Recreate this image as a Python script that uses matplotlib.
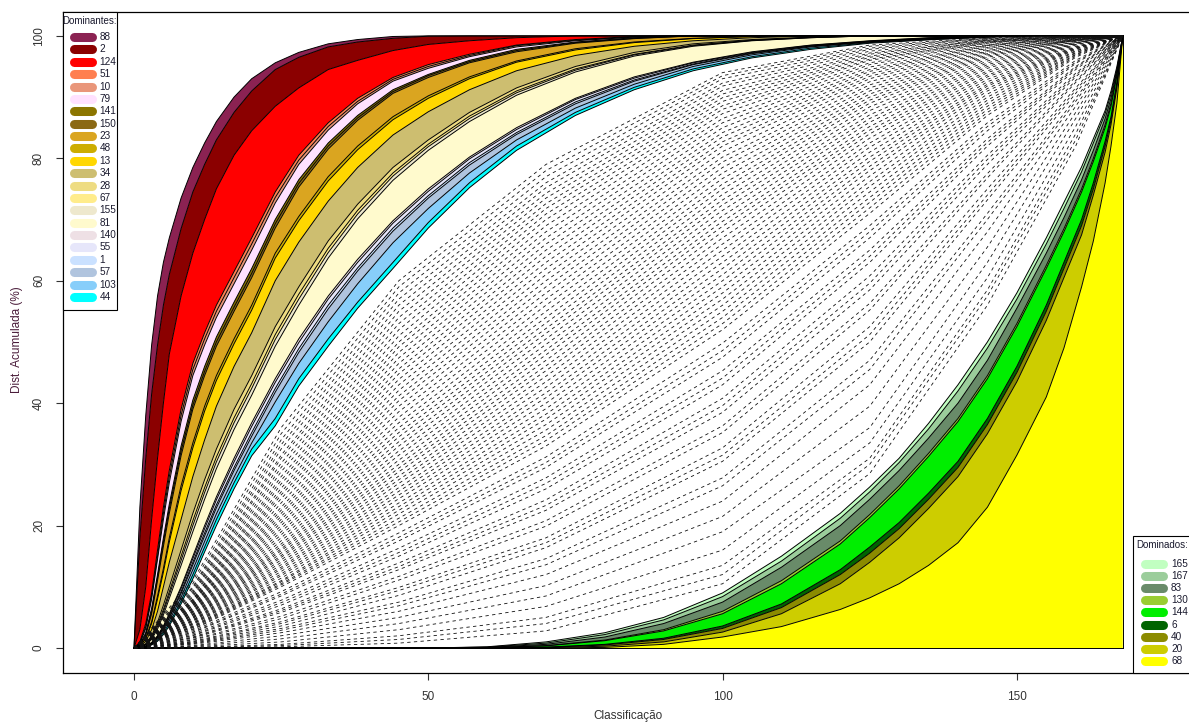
import numpy as np
import matplotlib.pyplot as plt
from matplotlib.lines import Line2D
from matplotlib.patches import Rectangle

plt.rcParams['font.family'] = ['Liberation Sans', 'DejaVu Sans']

W, H = 1189, 724

# ranks (x) where the dominant curves were read
xd = [0, 1, 2, 3, 4, 5, 6, 8, 10, 12, 14, 17, 20, 24, 28, 33, 38, 44, 50, 57,
      65, 75, 85, 95, 105, 115, 125, 135, 150, 168]

dom_ids = ['88', '2', '124', '51', '10', '79', '141', '150', '23', '48', '13',
           '34', '28', '67', '155', '81', '140', '55', '1', '57', '103', '44']
dom_colors = ['#8B2252', '#8B0000', '#FF0000', '#FF7F50', '#E9967A', '#FFE1FF',
              '#8B7500', '#8B6914', '#DAA520', '#CDAD00', '#FFD700', '#CDBE70',
              '#EEDC82', '#FFEC8B', '#EEE8CD', '#FFFACD', '#EEE0E5', '#E6E6FA',
              '#CAE1FF', '#B0C4DE', '#87CEFA', '#00FFFF']
# cumulative % at xd (lists stop once 100 is reached)
dom_curves = [
    [0, 23, 38, 49.5, 57.5, 63, 67, 73.5, 78.5, 82.5, 86, 90, 93, 95.6, 97.3, 98.7, 99.4, 99.9, 100],
    [0, 18, 31, 41.5, 49.5, 56, 61, 68.5, 74.5, 79, 83, 87.5, 91, 94.5, 96.5, 98.2, 99, 99.6, 99.95, 100],
    [0, 3, 10, 21, 31, 40, 48, 57.5, 64.5, 70, 75, 80.5, 84.5, 88.5, 91.5, 94.5, 96, 97.6, 98.6, 99.2, 99.7, 100],
    [0, 1, 4, 9, 16, 23, 29, 39, 46.5, 51.5, 56, 61.5, 67, 74.5, 80.5, 85.8, 89.8, 93.2, 95.3, 97, 98.5, 99.4, 99.9, 100],
    [0, 0.8, 3.5, 8.5, 15, 22, 28, 38, 45.5, 50.5, 55, 60.5, 66, 73.6, 79.7, 85.2, 89.3, 92.9, 95, 96.8, 98.4, 99.3, 99.85, 100],
    [0, 0.7, 3.2, 8, 14.5, 21, 27, 37, 44.5, 49.5, 54, 59.5, 65, 72.7, 79, 84.6, 88.9, 92.6, 94.7, 96.6, 98.2, 99.2, 99.8, 100],
    [0, 0.5, 2.5, 6.5, 12, 18, 23.5, 33, 40.5, 46, 50.8, 56.5, 62, 70, 76.5, 82.5, 87, 91.2, 93.7, 96, 97.8, 99, 99.7, 100],
    [0, 0.5, 2.3, 6, 11.5, 17.3, 22.8, 32.2, 39.7, 45.2, 50, 55.7, 61.2, 69.3, 75.9, 82, 86.6, 90.9, 93.5, 95.8, 97.6, 98.9, 99.6, 100],
    [0, 0.4, 2.1, 5.6, 11, 16.6, 22, 31.4, 39, 44.5, 49.3, 55, 60.5, 68.6, 75.3, 81.5, 86.2, 90.6, 93.2, 95.6, 97.4, 98.8, 99.55, 100],
    [0, 0.3, 1.6, 4.3, 8.5, 13, 18, 26.5, 33.5, 39.5, 44.5, 50.5, 56, 64.5, 70.5, 77, 82, 86.8, 90.2, 93.3, 95.9, 97.9, 99, 99.6, 99.9, 100],
    [0, 0.3, 1.5, 4, 8, 12.4, 17.3, 25.7, 32.7, 38.7, 43.7, 49.7, 55.2, 63.7, 69.8, 76.3, 81.4, 86.3, 89.8, 93, 95.7, 97.7, 98.9, 99.55, 99.9, 100],
    [0, 0.2, 1.1, 3, 6, 10, 14, 21, 28, 34, 39.5, 46, 51.5, 60, 66.3, 73, 78.5, 83.8, 87.6, 91.2, 94.3, 96.8, 98.3, 99.2, 99.7, 100],
    [0, 0.1, 0.7, 2, 4.2, 7, 10, 16, 22, 27.5, 32.5, 39, 44.5, 52.5, 59, 66.5, 72.5, 78.5, 83, 87.5, 91.5, 95, 97.3, 98.7, 99.4, 99.8, 100],
    [0, 0.1, 0.6, 1.8, 3.8, 6.3, 9.2, 15, 20.8, 26.2, 31.2, 37.6, 43.2, 51.2, 57.8, 65.3, 71.5, 77.6, 82.3, 86.9, 91, 94.6, 97, 98.5, 99.3, 99.75, 100],
    [0, 0.1, 0.55, 1.6, 3.5, 5.9, 8.7, 14.3, 20, 25.4, 30.4, 36.8, 42.4, 50.4, 57, 64.6, 70.9, 77.1, 81.9, 86.5, 90.7, 94.4, 96.9, 98.4, 99.25, 99.7, 100],
    [0, 0.1, 0.5, 1.4, 3.1, 5.4, 8.1, 13.5, 19, 24.3, 29.3, 35.7, 41.3, 49.3, 56, 63.7, 70.1, 76.4, 81.3, 86, 90.3, 94.1, 96.7, 98.3, 99.2, 99.7, 100],
    [0, 0.05, 0.3, 0.9, 2, 3.6, 5.6, 10, 15, 20, 24.7, 31, 36.8, 44, 50.5, 57.5, 63.5, 69.8, 75, 80.2, 85, 89.8, 93.3, 95.7, 97.4, 98.5, 99.2, 99.7, 100],
    [0, 0.05, 0.3, 0.85, 1.9, 3.5, 5.4, 9.7, 14.6, 19.5, 24.2, 30.4, 36.2, 43.4, 49.9, 57, 63, 69.4, 74.6, 79.9, 84.7, 89.6, 93.1, 95.6, 97.3, 98.45, 99.15, 99.65, 100],
    [0, 0.05, 0.25, 0.8, 1.8, 3.3, 5.1, 9.2, 14, 18.8, 23.4, 29.5, 35.2, 42.4, 48.9, 56, 62.1, 68.6, 73.9, 79.3, 84.2, 89.2, 92.8, 95.4, 97.2, 98.35, 99.1, 99.6, 100],
    [0, 0.05, 0.25, 0.75, 1.7, 3.1, 4.9, 8.9, 13.6, 18.3, 22.9, 29, 34.6, 41.8, 48.3, 55.4, 61.6, 68.1, 73.5, 78.9, 83.9, 88.9, 92.6, 95.3, 97.1, 98.3, 99.05, 99.55, 100],
    [0, 0.04, 0.2, 0.7, 1.5, 2.8, 4.5, 8.3, 12.8, 17.4, 21.9, 27.9, 33.5, 40.2, 46.5, 53.3, 59.5, 66.2, 71.8, 77.6, 83, 88.2, 92.1, 95, 96.9, 98.2, 99, 99.5, 100],
    [0, 0.03, 0.15, 0.6, 1.3, 2.5, 4, 7.7, 12, 16.5, 21, 27, 32.5, 37.5, 44, 50.5, 56.5, 63, 69.5, 76, 82, 87.5, 91.6, 94.6, 96.6, 98, 98.9, 99.4, 100],
]
# first plain curve just under item 44
dom_edge = [0, 0.02, 0.1, 0.5, 1.1, 2.2, 3.6, 7.2, 11.3, 15.7, 20, 26, 31.4, 36.3, 42.8,
            49.3, 55.5, 62, 68.6, 75.2, 81.3, 87, 91.2, 94.3, 96.4, 97.8, 98.8, 99.35, 100]

# ranks where the dominated curves were read
xn = [0, 50, 60, 70, 80, 90, 100, 110, 120, 125, 130, 135, 140, 145, 150, 155, 158,
      161, 163, 165, 166, 167, 168]
sub_ids = ['165', '167', '83', '130', '144', '6', '40', '20', '68']
sub_colors = ['#C1FFC1', '#9BCD9B', '#698B69', '#9ACD32', '#00EE00', '#006400',
              '#8B8B00', '#CDCD00', '#FFFF00']
sub_curves = [
    [0, 0, 0.2, 1, 2.5, 5, 9, 15, 22, 26.3, 31, 36.7, 43, 50, 58, 67, 72.8, 78.6, 83.2, 87.8, 91, 95, 100],
    [0, 0, 0.15, 0.8, 2.2, 4.6, 8.4, 14.2, 21.2, 25.5, 30.3, 35.8, 42, 49, 57, 66, 71.8, 77.8, 82.5, 87.3, 90.5, 94.6, 100],
    [0, 0, 0.1, 0.6, 1.8, 4, 7.5, 13.2, 20, 24.3, 29, 34.3, 40, 47, 55.5, 64.5, 70.3, 76.5, 81.3, 86.5, 89.8, 94.3, 100],
    [0, 0, 0.05, 0.4, 1.3, 3, 6, 11, 17.5, 21.8, 26.5, 31.8, 37.5, 44.5, 53, 62.5, 68.5, 75, 80, 85.5, 89, 93.8, 100],
    [0, 0, 0.04, 0.35, 1.2, 2.8, 5.6, 10.5, 17, 21.3, 26, 31.3, 37, 44, 52.5, 62, 68, 74.5, 79.5, 85, 88.5, 93.5, 100],
    [0, 0, 0, 0.15, 0.6, 1.6, 3.6, 7.2, 12.8, 16.5, 20.5, 25.3, 30.5, 37.5, 46, 56, 63, 70, 76, 82.8, 86.8, 92.4, 100],
    [0, 0, 0, 0.1, 0.5, 1.4, 3.2, 6.6, 12, 15.5, 19.5, 24.3, 29.5, 36.5, 45, 55, 62, 69, 75, 82, 86.2, 92, 100],
    [0, 0, 0, 0.05, 0.3, 1, 2.6, 5.6, 10.5, 14, 18, 22.8, 28, 35, 43.5, 53.5, 60.5, 67.5, 74, 81, 85.5, 91.5, 100],
    [0, 0, 0, 0, 0.1, 0.6, 1.8, 3.5, 6.3, 8.2, 10.5, 13.5, 17.2, 23, 31.5, 41, 49, 59, 66.5, 76, 82, 89, 100],
]

# the remaining items (dashed), cumulative % at these ranks
xm = [0, 10, 25, 45, 70, 100, 125, 145, 160, 168]
mid_curves = [
    [11, 36, 60, 79, 94, 98.5, 99.7, 100],
    [10.5, 35, 59, 78, 93.5, 98.3, 99.6, 100],
    [10, 34, 58, 77, 93, 98, 99.6, 100],
    [9.8, 33.2, 57, 76, 92.3, 97.8, 99.5, 100],
    [9.5, 32.5, 56, 75.2, 91.8, 97.5, 99.4, 99.9],
    [9.2, 31.5, 55, 74.3, 91.1, 97.2, 99.3, 99.9],
    [9, 31, 54, 73.5, 90.5, 97, 99.3, 99.9],
    [8.8, 30.2, 53, 72.6, 89.9, 96.7, 99.2, 99.9],
    [8.5, 29.5, 52, 71.8, 89.3, 96.5, 99.1, 99.9],
    [8.3, 28.8, 51, 70.9, 88.6, 96.2, 99, 99.8],
    [8, 28, 50, 70, 88, 96, 99, 99.8],
    [7.9, 27.4, 49.2, 69, 87.3, 95.6, 98.9, 99.8],
    [7.8, 26.8, 48.3, 68, 86.5, 95.3, 98.8, 99.8],
    [7.6, 26.1, 47.4, 67, 85.8, 94.9, 98.6, 99.7],
    [7.5, 25.5, 46.5, 66, 85, 94.5, 98.5, 99.7],
    [7.4, 25, 45.6, 65, 84.2, 94.2, 98.4, 99.7],
    [7.3, 24.4, 44.8, 64, 83.5, 93.8, 98.3, 99.7],
    [7.1, 23.7, 43.9, 63, 82.7, 93.4, 98.1, 99.6],
    [7, 23, 43, 62, 82, 93, 98, 99.6],
    [6.9, 22.5, 42.1, 61, 81.1, 92.5, 97.8, 99.5],
    [6.8, 22, 41.2, 60, 80.2, 92, 97.6, 99.5],
    [6.6, 21.5, 40.4, 59, 79.4, 91.5, 97.5, 99.4],
    [6.5, 21, 39.5, 58, 78.5, 91, 97.3, 99.4],
    [6.4, 20.5, 38.6, 57, 77.6, 90.5, 97.1, 99.4],
    [6.3, 20, 37.7, 56, 76.7, 90, 96.9, 99.3],
    [6.1, 19.5, 36.8, 55, 75.8, 89.5, 96.7, 99.3],
    [6, 19, 36, 54, 75, 89, 96.5, 99.3],
    [5.9, 18.5, 35.2, 53.1, 74.1, 88.4, 96.2, 99.2],
    [5.8, 18, 34.5, 52.2, 73.2, 87.8, 95.9, 99.1],
    [5.6, 17.5, 33.7, 51.4, 72.4, 87.1, 95.6, 99.1],
    [5.5, 17, 33, 50.5, 71.5, 86.5, 95.3, 99],
    [5.4, 16.6, 32.2, 49.6, 70.6, 85.9, 95, 98.9],
    [5.3, 16.2, 31.5, 48.7, 69.7, 85.2, 94.7, 98.8],
    [5.1, 15.9, 30.7, 47.9, 68.9, 84.6, 94.3, 98.8],
    [5, 15.5, 30, 47, 68, 84, 94, 98.7],
    [4.9, 15.1, 29.4, 46.1, 67, 83.3, 93.6, 98.6],
    [4.8, 14.8, 28.8, 45.3, 66, 82.5, 93.3, 98.5],
    [4.6, 14.4, 28.1, 44.4, 65, 81.8, 92.9, 98.3],
    [4.5, 14, 27.5, 43.5, 64, 81, 92.5, 98.2],
    [4.4, 13.6, 26.9, 42.6, 63, 80.2, 92.1, 98.1],
    [4.3, 13.2, 26.2, 41.7, 62, 79.5, 91.8, 98],
    [4.1, 12.9, 25.6, 40.9, 61, 78.7, 91.4, 97.9],
    [4, 12.5, 25, 40, 60, 78, 91, 97.8],
    [3.9, 12.1, 24.4, 39.1, 59, 77.1, 90.5, 97.6],
    [3.8, 11.8, 23.7, 38.2, 58, 76.2, 90, 97.5],
    [3.6, 11.4, 23.1, 37.4, 57, 75.4, 89.5, 97.3],
    [3.5, 11, 22.5, 36.5, 56, 74.5, 89, 97.2],
    [3.4, 10.8, 21.9, 35.6, 55, 73.6, 88.5, 97],
    [3.3, 10.5, 21.2, 34.7, 54, 72.8, 88, 96.9],
    [3.1, 10.3, 20.6, 33.9, 53, 71.9, 87.5, 96.7],
    [3, 10, 20, 33, 52, 71, 87, 96.5],
    [2.8, 9.2, 18.8, 31.2, 49.8, 69, 85.8, 96],
    [2.6, 8.8, 18.1, 30.3, 48.6, 68, 85.2, 95.7],
    [2.5, 8.5, 17.5, 29.5, 47.5, 67, 84.5, 95.5],
    [2.3, 7.8, 16.3, 27.8, 45.3, 65, 83.2, 95],
    [2.1, 7.4, 15.6, 26.9, 44.1, 64, 82.6, 94.8],
    [2, 7, 15, 26, 43, 63, 82, 94.5],
    [1.8, 6.4, 13.9, 24.2, 40.8, 60.8, 80.5, 93.9],
    [1.7, 6.1, 13.3, 23.3, 39.6, 59.6, 79.8, 93.6],
    [1.6, 5.8, 12.8, 22.5, 38.5, 58.5, 79, 93.3],
    [1.4, 5.2, 11.7, 20.8, 36.3, 56.3, 77.5, 92.7],
    [1.3, 4.8, 11.1, 19.9, 35.2, 55.2, 76.8, 92.4],
    [1.1, 4.3, 9.9, 18, 32.7, 52.5, 75, 91.5],
    [1, 4, 9.4, 17.2, 31.5, 51.2, 74, 91.1],
    [0.9, 3.6, 8.6, 16.4, 30.5, 50, 73.2, 90.6],
    [0.8, 3.2, 7.5, 14.6, 27.8, 47, 71, 89.8],
    [0.7, 2.9, 6.9, 13.6, 26.5, 45.5, 70, 89.3],
    [0.6, 2.5, 6, 12, 24, 43, 68, 88.5],
    [0.4, 2, 5, 10.2, 21.5, 39.5, 65.5, 87.5],
    [0.3, 1.5, 4, 8.5, 19, 36, 63, 86.5],
    [0.2, 1, 3, 6.8, 16, 33.5, 60.5, 85.2],
    [0.1, 0.6, 2, 5, 13.5, 31, 58.5, 84],
    [0.05, 0.4, 1.4, 4, 12, 30, 57.5, 83],
    [0, 0.2, 0.8, 2.8, 10.5, 28.5, 56, 82],
]


def pad(row, n):
    # cumulative share stays at 100 once reached
    return np.array(list(row) + [100.0] * (n - len(row)), dtype=float)


fig = plt.figure(figsize=(W / 100, H / 100), dpi=100)
ax = fig.add_axes([63 / W, 1 - 673 / H, (1194 - 63) / W, (673 - 12) / H])

# dominant bands, each one between its curve and the next one inside
xd_arr = np.array(xd, dtype=float)
dom_y = [pad(c, len(xd)) for c in dom_curves] + [pad(dom_edge, len(xd))]
for i, col in enumerate(dom_colors):
    ax.fill_between(xd_arr, dom_y[i], dom_y[i + 1], facecolor=col, edgecolor='none', zorder=1)
for y in dom_y:
    ax.plot(xd_arr, y, color='black', lw=0.7, zorder=2)

# dominated bands, the last one goes down to zero
xn_arr = np.array(xn, dtype=float)
sub_y = [np.array(c, dtype=float) for c in sub_curves] + [np.zeros(len(xn))]
for i, col in enumerate(sub_colors):
    ax.fill_between(xn_arr, sub_y[i], sub_y[i + 1], facecolor=col, edgecolor='none', zorder=1)
for y in sub_y:
    ax.plot(xn_arr, y, color='black', lw=0.7, zorder=2)
ax.plot([168, 168], [0, 100], color='black', lw=0.7, zorder=2)

# the other items as dashed lines
xm_arr = np.array(xm, dtype=float)
for row in mid_curves:
    y = np.array([0.0] + list(row) + [100.0])
    ax.plot(xm_arr, y, color='#111111', lw=0.6, dashes=(4, 4), zorder=3)

ax.set_xlim(-12.06, 180.1)
ax.set_ylim(-4.08, 103.9)
ax.set_xticks([0, 50, 100, 150])
ax.set_yticks([0, 20, 40, 60, 80, 100])
ax.tick_params(direction='out', length=5, width=0.8, colors='#333333', labelsize=8.5, pad=8)
plt.setp(ax.get_yticklabels(), rotation=90, va='center')
for s in ax.spines.values():
    s.set_linewidth(0.9)
    s.set_color('black')

fig.text(628 / W, 1 - 716 / H, 'Classificação', ha='center', va='center',
         fontsize=8.5, color='#333333')
fig.text(17 / W, 1 - 340 / H, 'Dist. Acumulada (%)', ha='center', va='center',
         rotation=90, fontsize=8.5, color='#4a1c3a')


def fx(px):
    return px / W


def fy(py):
    return 1 - py / H


def draw_key(left, top, right, bottom, title, title_x, title_ha, first_row, step,
             sw0, sw1, text_x, ids, cols):
    fig.add_artist(Rectangle((fx(left), fy(bottom)), fx(right) - fx(left), fy(top) - fy(bottom),
                             transform=fig.transFigure, facecolor='white',
                             edgecolor='black', lw=0.8, zorder=10))
    fig.text(fx(title_x), fy(top + 9), title, ha=title_ha, va='center', fontsize=7,
             color='#1a1a2e', zorder=11)
    for i, (lab, col) in enumerate(zip(ids, cols)):
        py = first_row + step * i
        fig.add_artist(Line2D([fx(sw0), fx(sw1)], [fy(py), fy(py)], lw=6.5, color=col,
                              solid_capstyle='round', transform=fig.transFigure, zorder=11))
        fig.text(fx(text_x), fy(py), lab, ha='left', va='center', fontsize=7.2,
                 color='#1a1a2e', zorder=11)


draw_key(63, 12, 117, 310, 'Dominantes:', 90, 'center', 37, 12.38, 73.5, 91.5, 99.5,
         dom_ids, dom_colors)
draw_key(1133, 536, 1194, 673, 'Dominados:', 1136, 'left', 564, 12.12, 1144.5, 1162.5, 1171,
         sub_ids, sub_colors)

fig.savefig('out.png', dpi=100)
